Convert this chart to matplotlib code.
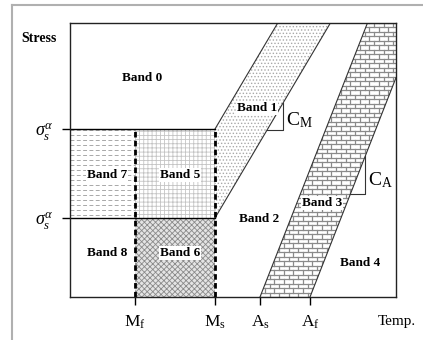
import numpy as np
import matplotlib.pyplot as plt
from matplotlib.patches import Polygon, Rectangle
from matplotlib.lines import Line2D

plt.rcParams['font.family'] = ['Liberation Serif', 'DejaVu Serif']
plt.rcParams['mathtext.fontset'] = 'custom'
plt.rcParams['mathtext.rm'] = 'Liberation Serif'
plt.rcParams['mathtext.it'] = 'Liberation Serif:italic'
plt.rcParams['hatch.linewidth'] = 0.6

# schematic values (arbitrary units)
temp_ticks = [65, 145, 190, 240]          # Mf, Ms, As, Af
temp_labels = [r'M$_\mathrm{f}$', r'M$_\mathrm{s}$', r'A$_\mathrm{s}$', r'A$_\mathrm{f}$']
stress_levels = [79, 168]                 # sigma_s, sigma_f
stress_labels = [r'$\sigma_s^{\alpha}$', r'$\sigma_s^{\alpha}$']
slope_m = 1.69                            # C_M
slope_a = 2.55                            # C_A
x_max, y_max = 326, 274

band_names = ['Band 0', 'Band 1', 'Band 2', 'Band 3', 'Band 4',
              'Band 5', 'Band 6', 'Band 7', 'Band 8']
band_x = [72, 187, 189, 252, 290, 110, 110, 37, 37]
band_y = [219, 189, 78, 94, 34, 122, 44, 122, 44]

Mf, Ms, As, Af = temp_ticks
s_lo, s_hi = stress_levels

fig = plt.figure(figsize=(4.23, 3.40), dpi=100)
ax = fig.add_axes([70/423, 43/340, 326/423, 274/340])
ax.set_xlim(0, x_max)
ax.set_ylim(0, y_max)

# outer picture frame
fig.add_artist(Line2D([12/423, 1], [1 - 5/340] * 2, transform=fig.transFigure, color='#b0b0b0', lw=1.5))
fig.add_artist(Line2D([12/423] * 2, [0, 1 - 5/340], transform=fig.transFigure, color='#b0b0b0', lw=1.5))

# band 7, 5, 6 fills
b7 = Rectangle((0, s_lo), Mf, s_hi - s_lo, facecolor='white', edgecolor='none')
ax.add_patch(b7)
for yy in np.arange(s_lo + 3, s_hi, 5):
    ax.plot([0, Mf], [yy, yy], color='#a8a8a8', lw=0.7, dashes=(4, 2.5), clip_path=b7)
ax.add_patch(Rectangle((Mf, s_lo), Ms - Mf, s_hi - s_lo, facecolor='white',
                       edgecolor='#c4c4c4', hatch='++++', lw=0))
ax.add_patch(Rectangle((Mf, 0), Ms - Mf, s_lo, facecolor='#e4e4e4',
                       edgecolor='#8a8a8a', hatch='xxxxxx', lw=0))

# band 1 (martensite transformation strip)
x_lo_top = Ms + (y_max - s_lo) / slope_m
x_hi_top = Ms + (y_max - s_hi) / slope_m
band1 = [(Ms, s_lo), (x_lo_top, y_max), (x_hi_top, y_max), (Ms, s_hi)]
ax.add_patch(Polygon(band1, closed=True, facecolor='white', edgecolor='#a8a8a8',
                     hatch='.....', lw=0))
ax.plot([Ms, x_lo_top], [s_lo, y_max], color='#333333', lw=0.8)
ax.plot([Ms, x_hi_top], [s_hi, y_max], color='#333333', lw=0.8)

# band 3 (austenite transformation strip) with brick texture
y_af_edge = (x_max - Af) * slope_a
x_as_top = As + y_max / slope_a
band3 = Polygon([(As, 0), (Af, 0), (x_max, y_af_edge), (x_max, y_max), (x_as_top, y_max)],
                closed=True, facecolor='white', edgecolor='none')
ax.add_patch(band3)
row_h, brick_w = 4.5, 9.5
rows = np.arange(0, y_max + row_h, row_h)
for i, yy in enumerate(rows):
    ax.plot([As, x_max], [yy, yy], color='#8a8a8a', lw=0.9, clip_path=band3)
    off = 0 if i % 2 == 0 else brick_w / 2
    for xx in np.arange(As - brick_w + off, x_max, brick_w):
        ax.plot([xx, xx], [yy, yy + row_h], color='#8a8a8a', lw=0.9, clip_path=band3)
ax.plot([As, x_as_top], [0, y_max], color='#333333', lw=0.8)
ax.plot([Af, x_max], [0, y_af_edge], color='#333333', lw=0.8)

# stress / temperature boundaries
ax.plot([0, Ms], [s_hi, s_hi], color='black', lw=1.0)
ax.plot([0, Ms], [s_lo, s_lo], color='black', lw=1.0)
ax.plot([Mf, Mf], [0, s_hi], color='black', lw=2.0, dashes=(2, 1.2))
ax.plot([Ms, Ms], [0, s_hi], color='black', lw=2.0, dashes=(2, 1.2))

# slope triangles
y_cm = 167
x_cm = Ms + (y_cm - s_lo) / slope_m
ax.plot([x_cm, x_cm + 16, x_cm + 16], [y_cm, y_cm, s_lo + (x_cm + 16 - Ms) * slope_m],
        color='#333333', lw=0.8)
ax.text(x_cm + 19, y_cm + 10, r'C$_\mathrm{M}$', fontsize=14, ha='left', va='center')
y_ca = 103
x_ca = Af + y_ca / slope_a
ax.plot([x_ca, x_ca + 15, x_ca + 15], [y_ca, y_ca, (x_ca + 15 - Af) * slope_a],
        color='#333333', lw=0.8)
ax.text(x_ca + 18, y_ca + 14, r'C$_\mathrm{A}$', fontsize=14, ha='left', va='center')

# band labels
for name, bx, by in zip(band_names, band_x, band_y):
    ax.text(bx, by, name, fontsize=9.5, fontweight='bold', ha='center', va='center',
            bbox=dict(facecolor='white', edgecolor='none', pad=0.5))

for sp in ax.spines.values():
    sp.set_linewidth(1.0)
    sp.set_color('#222222')

ax.set_xticks(temp_ticks)
ax.set_xticklabels(temp_labels, fontsize=12.5)
ax.set_yticks(stress_levels)
ax.set_yticklabels(stress_labels, fontsize=13)
ax.tick_params(axis='both', direction='out', length=6, width=1.0, pad=6)

fig.text(39/423, 1 - 39/340, 'Stress', fontsize=10, fontweight='bold', ha='center', va='center')
fig.text(397/423, 1 - 322/340, 'Temp.', fontsize=11, ha='center', va='center')

fig.savefig('out.png', dpi=100)
